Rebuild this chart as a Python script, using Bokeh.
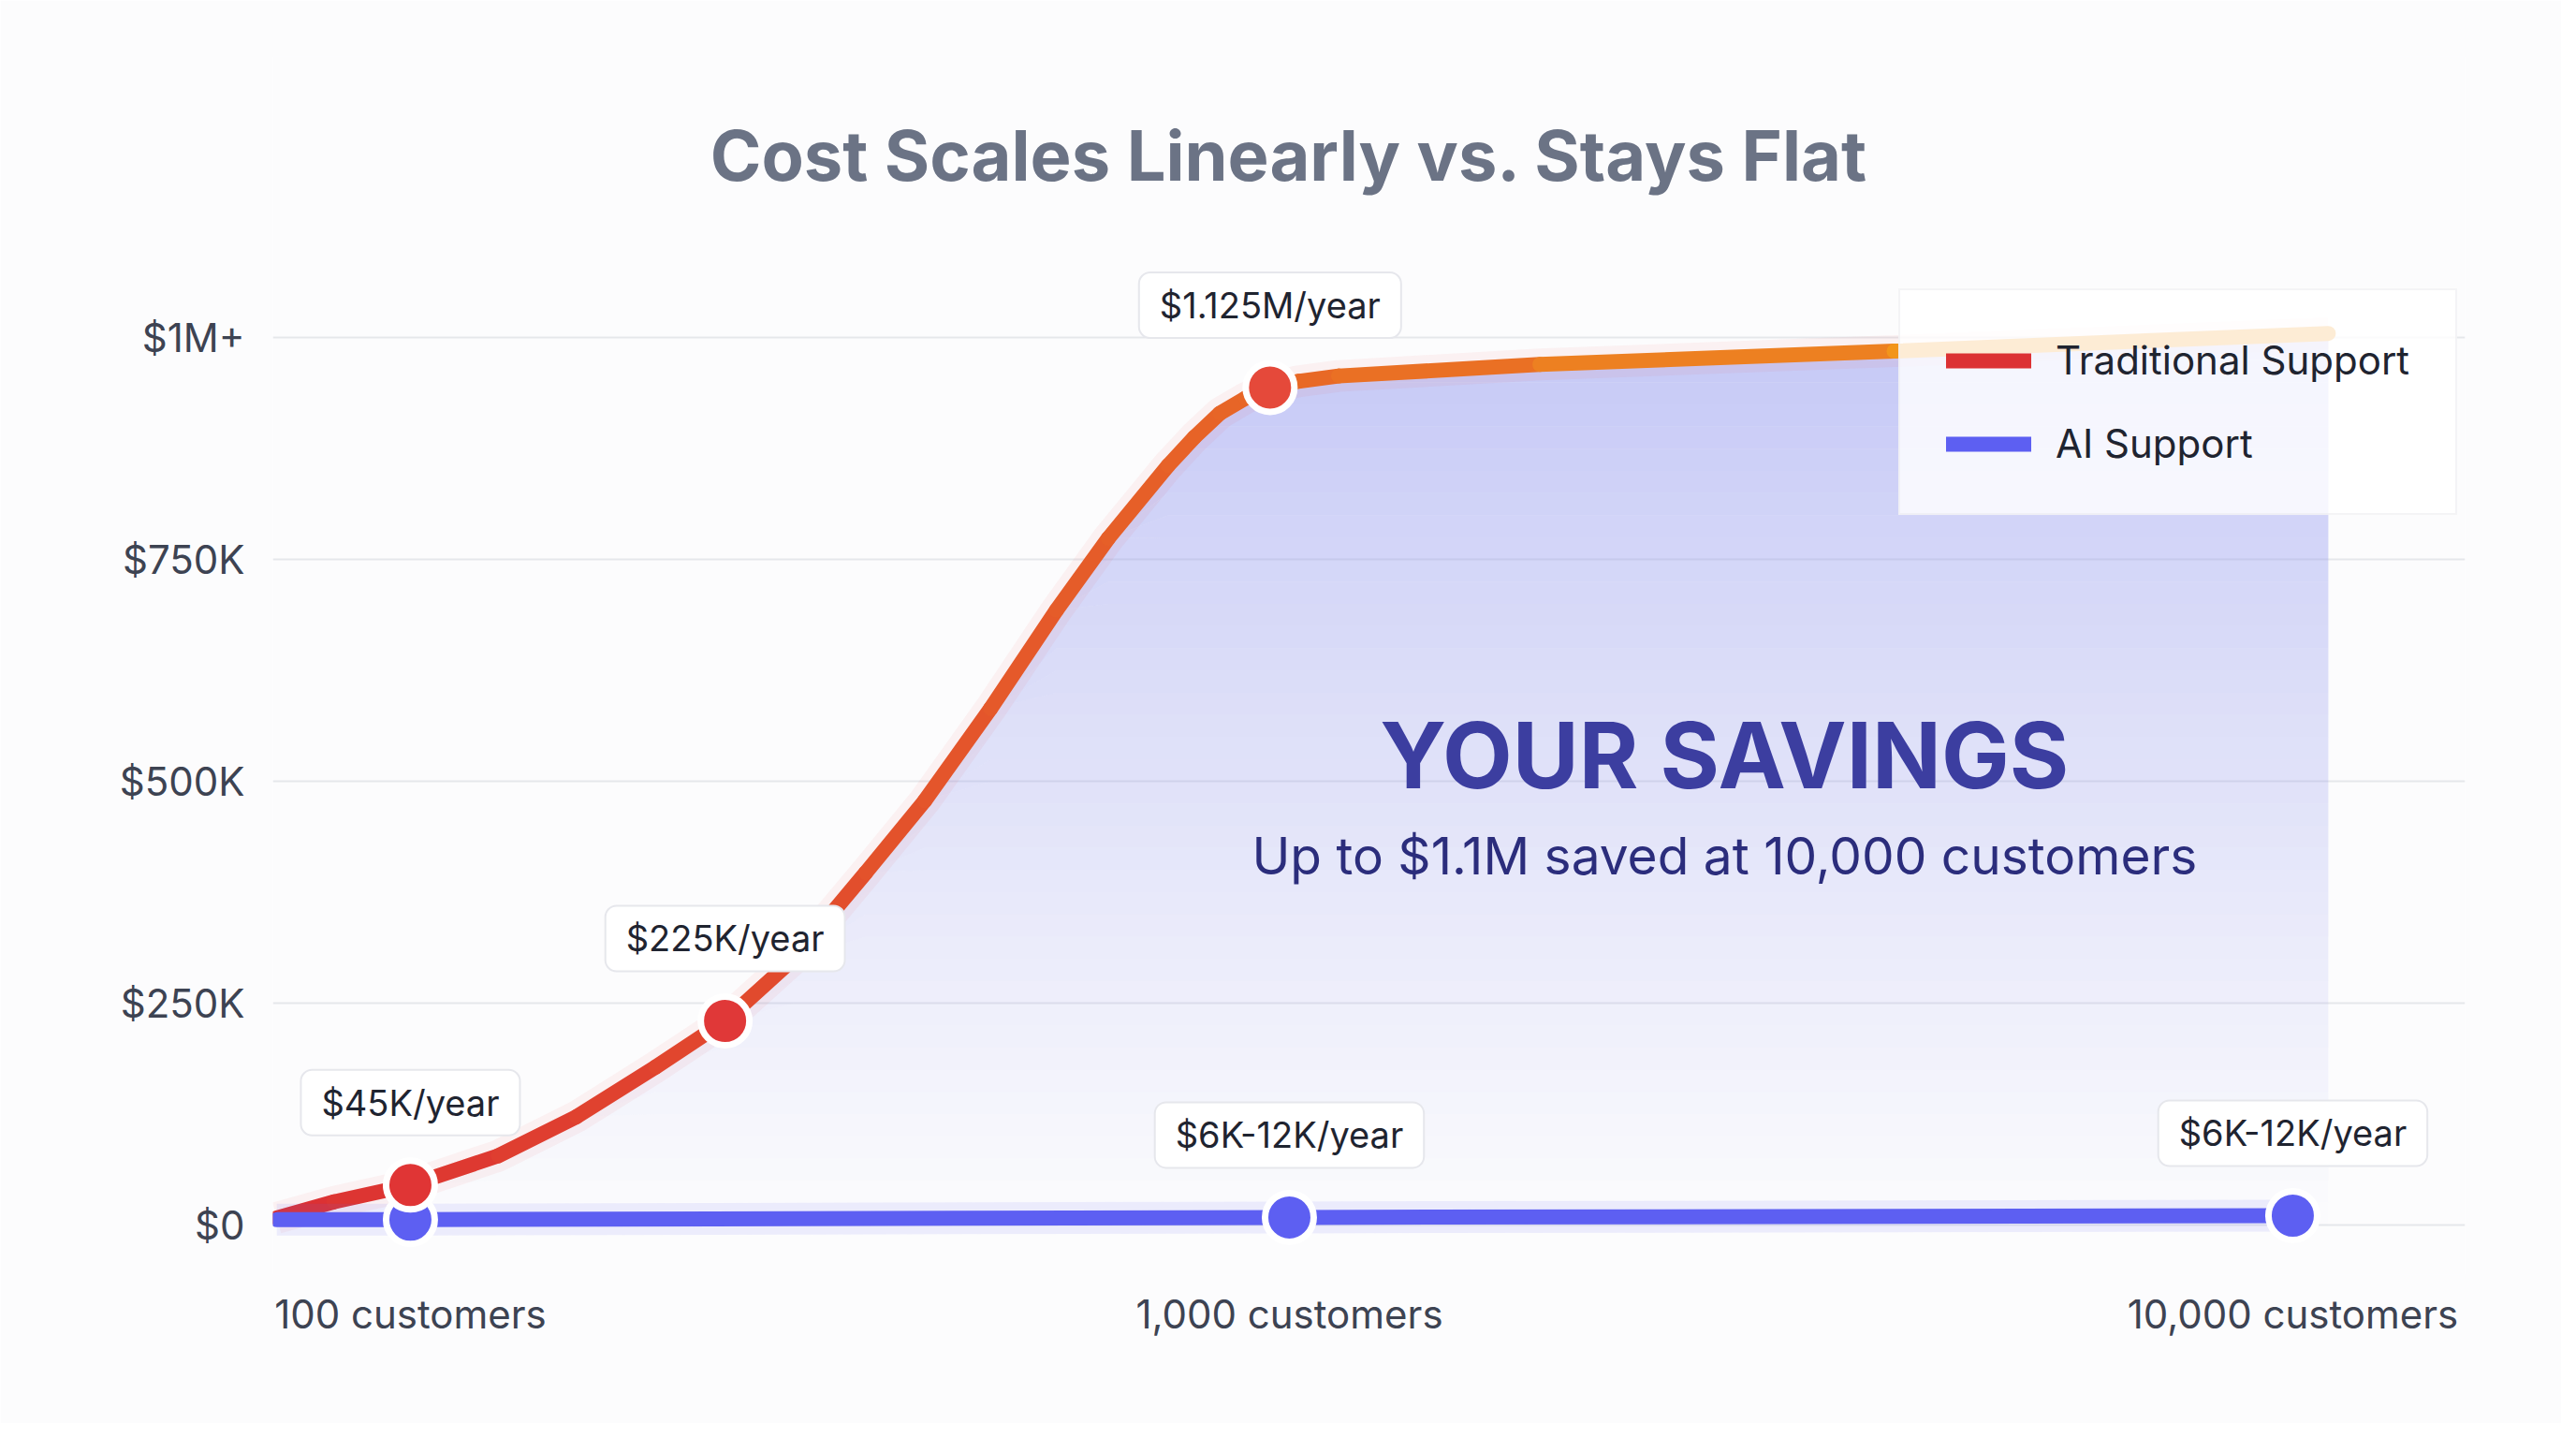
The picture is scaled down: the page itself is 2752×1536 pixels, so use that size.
import numpy as np
from bokeh.plotting import figure
from bokeh.models import FixedTicker, Label, Legend, LegendItem
from bokeh.embed import file_html
from bokeh.resources import INLINE

# x is a position along the customer axis (0 = 100 customers, 1 = 1,000 customers)
tick_pos = [0.0, 1.0, 2.1416]
tick_labels = ["100 customers", "1,000 customers", "10,000 customers"]

y_ticks = [0, 250000, 500000, 750000, 1000000]
y_labels = ["$0", "$250K", "$500K", "$750K", "$1M+"]

# traditional support cost curve
trad_x = [-0.152, -0.087, 0.0, 0.100, 0.189, 0.279, 0.358, 0.436, 0.518, 0.585, 0.660,
          0.735, 0.794, 0.862, 0.892, 0.921, 0.950, 0.978, 1.010, 1.056, 1.285, 1.688, 2.182]
trad_y = [8000, 26000, 45000, 78000, 122000, 178000, 230000, 300000, 397000, 478000, 582000,
          693000, 774000, 856000, 888000, 915000, 932000, 944000, 951000, 957000, 970000, 985000, 1005000]

trad_pts_x = [0.0, 0.358, 0.978]
trad_pts_y = [45000, 230000, 944000]
trad_pts_text = ["$45K/year", "$225K/year", "$1.125M/year"]

# AI support cost line
ai_x = [-0.152, 0.0, 1.0, 2.1416]
ai_y = [6000, 6000, 8500, 10500]
ai_pts_x = [0.0, 1.0, 2.1416]
ai_pts_y = [6000, 8500, 10500]
ai_lbl_x = [1.0, 2.1416]
ai_lbl_y = [8500, 10500]
ai_lbl_text = ["$6K-12K/year", "$6K-12K/year"]

title = "Cost Scales Linearly vs. Stays Flat"
title_x, title_y = 1.0, 1206000
savings_head = "YOUR SAVINGS"
savings_sub = "Up to $1.1M saved at 10,000 customers"
savings_x, savings_head_y, savings_sub_y = 1.495, 530000, 416000

FONT = "Inter"

# frame reaches up to hold the title, gridlines only at the fixed ticks
p = figure(width=2736, height=1520, x_range=(-0.1565, 2.3376), y_range=(-56000, 1317000),
           output_backend="svg", toolbar_location=None,
           min_border_left=291, min_border_right=103, min_border_top=60, min_border_bottom=159)
p.background_fill_color = "#fcfcfd"
p.border_fill_color = "#fcfcfd"
p.outline_line_color = None

p.xgrid.grid_line_color = None
p.ygrid.grid_line_color = "#e5e7eb"
p.ygrid.grid_line_width = 2

for ax in (p.xaxis, p.yaxis):
    ax.axis_line_color = None
    ax.major_tick_line_color = None
    ax.minor_tick_line_color = None
    ax.major_tick_out = 0
    ax.major_tick_in = 0
    ax.major_label_text_font = FONT
    ax.major_label_text_font_size = "42px"
    ax.major_label_text_color = "#3d4352"

p.yaxis.ticker = FixedTicker(ticks=y_ticks)
p.yaxis.major_label_overrides = dict(zip(y_ticks, y_labels))
p.yaxis.major_label_standoff = 30
p.xaxis.ticker = FixedTicker(ticks=tick_pos)
p.xaxis.major_label_overrides = dict(zip(tick_pos, tick_labels))
p.xaxis.major_label_standoff = 16

tx = np.array(trad_x)
ty = np.array(trad_y)

# savings area: non-overlapping horizontal bands, more opaque toward the top
step = 25000
for lv in np.arange(0, 1025000, step):
    lo = np.minimum(lv, ty)
    hi = np.minimum(lv + step, ty)
    p.varea(x=tx, y1=lo, y2=hi, fill_color="#8c92ee",
            fill_alpha=0.48 * (lv + step / 2) / 1000000)

# traditional line: soft halo + red-to-orange segments
p.line(trad_x, trad_y, line_width=34, color="#ef4444", alpha=0.06)
c0 = np.array([220, 48, 52])
c1 = np.array([245, 162, 25])
mid = (tx[:-1] + tx[1:]) / 2
frac = (mid - tx[0]) / (tx[-1] - tx[0])
seg_cols = ["#%02x%02x%02x" % tuple((c0 + (c1 - c0) * f).astype(int)) for f in frac]
trad_r = p.segment(x0=tx[:-1], y0=ty[:-1], x1=tx[1:], y1=ty[1:], line_color=seg_cols,
                   line_width=16, line_cap="round")

# AI line with glow
p.line(ai_x, ai_y, line_width=34, color="#6366f1", alpha=0.10)
ai_r = p.line(ai_x, ai_y, line_width=16, color="#5d5ff2", line_cap="round")
p.scatter(ai_pts_x, ai_pts_y, size=52, fill_color="#5d5ff2", line_color="white", line_width=7)

p.scatter(trad_pts_x, trad_pts_y, size=52, fill_color=["#e03535", "#e03838", "#e5493a"],
          line_color="white", line_width=7)

# callouts
for x, y, t in list(zip(trad_pts_x, trad_pts_y, trad_pts_text)) + list(zip(ai_lbl_x, ai_lbl_y, ai_lbl_text)):
    p.add_layout(Label(x=x, y=y, text=t, y_offset=88, text_align="center", text_baseline="middle",
                       text_font=FONT, text_font_size="38px", text_color="#1f2430",
                       background_fill_color="white", border_line_color="#e6e7ec",
                       border_line_width=2, padding=(22, 12), border_radius=12))

p.add_layout(Label(x=title_x, y=title_y, text=title, text_align="center", text_baseline="middle",
                   text_font=FONT, text_font_size="74px", text_font_style="bold",
                   text_color="#6b7385"))
p.add_layout(Label(x=savings_x, y=savings_head_y, text=savings_head, text_align="center",
                   text_baseline="middle", text_font=FONT, text_font_size="97px",
                   text_font_style="bold", text_color="#3c3ea0"))
p.add_layout(Label(x=savings_x, y=savings_sub_y, text=savings_sub, text_align="center",
                   text_baseline="middle", text_font=FONT, text_font_size="55px",
                   text_color="#2b2d7c"))

legend = Legend(items=[LegendItem(label="Traditional Support", renderers=[trad_r]),
                       LegendItem(label="AI Support", renderers=[ai_r])],
                location=(1737, 811), glyph_width=91, glyph_height=50, label_height=50,
                spacing=38, padding=49, label_standoff=26, margin=0,
                label_text_font=FONT, label_text_font_size="42px", label_text_color="#1f2430",
                background_fill_color="white", background_fill_alpha=0.82,
                border_line_color="#e9e9ee", border_line_width=2)
p.add_layout(legend)

open("out.html", "w").write(file_html(p, INLINE))
